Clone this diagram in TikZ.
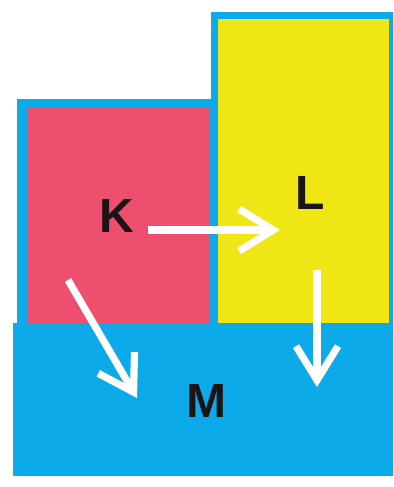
\documentclass[tikz,border=0pt]{standalone}
\usepackage{fontspec}
\setmainfont{Liberation Sans}
\usetikzlibrary{arrows.meta}
\definecolor{skyblue}{HTML}{0CAAE8}
\definecolor{rosered}{HTML}{EE4F6F}
\definecolor{lemon}{HTML}{F0E616}
\definecolor{inkblack}{HTML}{1A1414}
\tikzset{
  lbl/.style={text=inkblack,font=\fontsize{24}{24}\selectfont\bfseries,inner sep=0pt},
  flow/.style={draw=white,line width=3.6pt,-{Straight Barb[length=17pt,width=21pt]}}
}

\begin{document}
\begin{tikzpicture}[x=0.5pt,y=-0.5pt]
  \useasboundingbox (0,0) rectangle (393,487);
  \fill[skyblue] (13,323) rectangle (393,476); % M
  \fill[skyblue] (17,99) rectangle (211,323);
  \fill[rosered] (27,108) rectangle (210,323); % K
  \fill[skyblue] (211,12) rectangle (393,323);
  \fill[lemon] (218,19) rectangle (389,323); % L
  \node[lbl] (K) at (117,216) {K};
  \node[lbl] (L) at (310,193) {L};
  \node[lbl] (M) at (206,401) {M};
  \coordinate (kstart) at (148,230);
  \coordinate (kend) at (280,230);
  \coordinate (kdown) at (68,280);
  \coordinate (mleft) at (137,398);
  \coordinate (lstart) at (317,270);
  \coordinate (mright) at (317,387);
  \draw[flow] (kstart) -- (kend);
  \draw[flow] (kdown) -- (mleft);
  \draw[flow] (lstart) -- (mright);
\end{tikzpicture}
\end{document}
